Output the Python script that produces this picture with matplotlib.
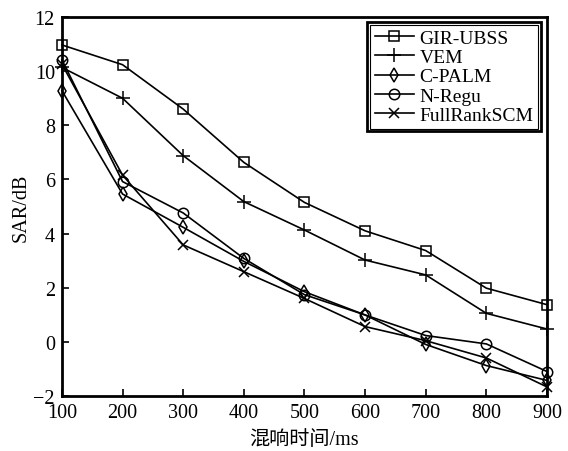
import matplotlib
matplotlib.use("Agg")
import matplotlib.pyplot as plt
from matplotlib.patches import Rectangle

plt.rcParams['font.family'] = ['Liberation Serif', 'Noto Sans CJK SC']
plt.rcParams['axes.unicode_minus'] = True

# 混响时间 (ms)
reverb_ms = [100, 200, 300, 400, 500, 600, 700, 800, 900]

# SAR (dB) for each method
sar_gir_ubss = [10.97, 10.24, 8.6, 6.63, 5.15, 4.1, 3.37, 1.98, 1.37]
sar_vem = [10.14, 9.0, 6.88, 5.18, 4.13, 3.02, 2.47, 1.05, 0.47]
sar_cpalm = [9.28, 5.46, 4.23, 2.97, 1.85, 0.99, -0.1, -0.88, -1.43]
sar_nregu = [10.42, 5.92, 4.76, 3.08, 1.74, 0.99, 0.23, -0.08, -1.1]
sar_fullrank = [10.26, 6.16, 3.58, 2.59, 1.6, 0.56, 0.04, -0.6, -1.67]

series = [
    ('GIR-UBSS', sar_gir_ubss, 's', 7),
    ('VEM', sar_vem, '+', 10),
    ('C-PALM', sar_cpalm, 'd', 7),
    ('N-Regu', sar_nregu, 'o', 7.5),
    ('FullRankSCM', sar_fullrank, 'x', 7.5),
]

fig = plt.figure(figsize=(5.68, 4.52), dpi=100)
ax = fig.add_axes([0.109, 0.122, 0.854, 0.838])

for name, vals, mk, ms in series:
    ax.plot(reverb_ms, vals, color='black', lw=1.2, marker=mk, markersize=ms,
            markerfacecolor='none', markeredgecolor='black', markeredgewidth=1.1,
            label=name, clip_on=False)

ax.set_xlim(100, 900)
ax.set_ylim(-2, 12)
ax.set_xticks(reverb_ms)
ax.set_yticks([-2, 0, 2, 4, 6, 8, 10, 12])
ax.tick_params(direction='in', length=5, width=1.2, labelsize=14.5, pad=5)
for sp in ax.spines.values():
    sp.set_linewidth(2)

ax.set_xlabel('混响时间/ms', fontsize=14.5, labelpad=6)
ax.set_ylabel('SAR/dB', fontsize=14.5, labelpad=2)

leg = ax.legend(loc='upper right', bbox_to_anchor=(0.982, 0.980), fontsize=14,
                handlelength=2.0, handletextpad=0.3, labelspacing=0.08,
                borderpad=0.25, borderaxespad=0.0, fancybox=False, framealpha=1)
leg.get_frame().set_edgecolor('black')
leg.get_frame().set_linewidth(0.8)

# heavier outer line around the legend frame
fig.canvas.draw()
bb = leg.get_window_extent().transformed(fig.transFigure.inverted())
pad = 2.5 / 568
fig.patches.append(Rectangle((bb.x0 - pad, bb.y0 - pad * 568 / 452),
                             bb.width + 2 * pad, bb.height + 2 * pad * 568 / 452,
                             transform=fig.transFigure, fill=False,
                             edgecolor='black', lw=2, zorder=10))

fig.savefig('out.png', dpi=100)
